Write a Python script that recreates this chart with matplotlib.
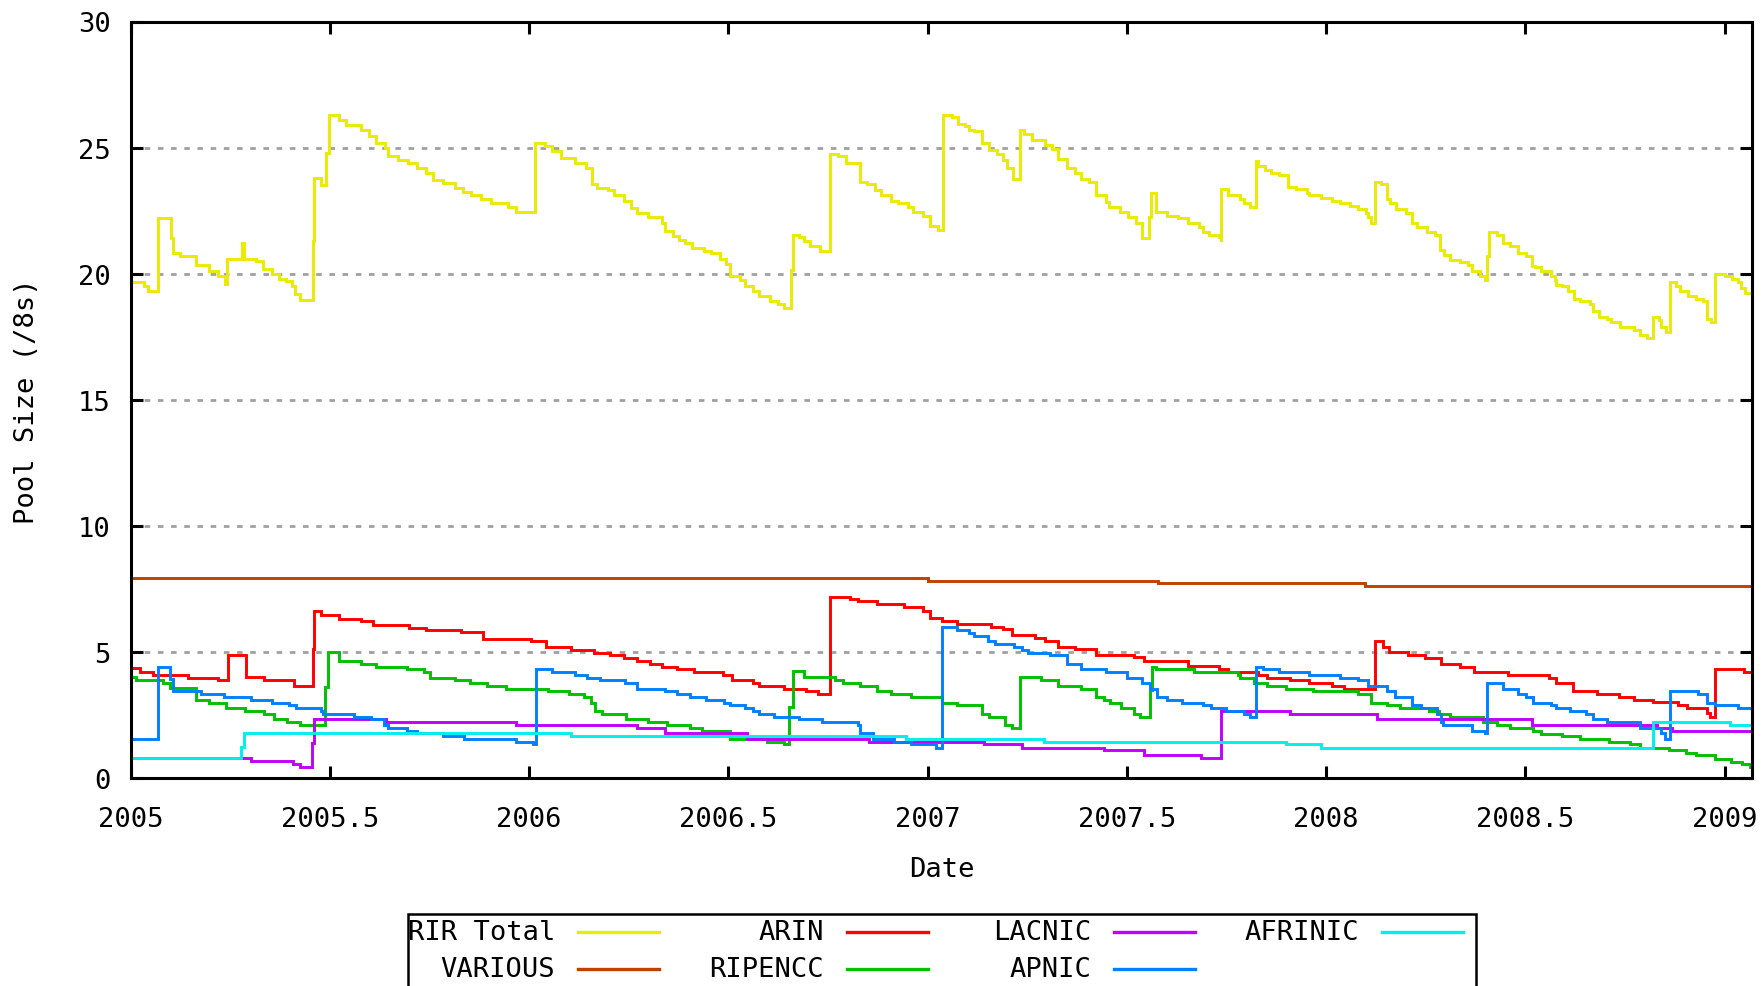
import matplotlib
matplotlib.use("Agg")
import matplotlib.pyplot as plt
from matplotlib.lines import Line2D
from matplotlib.patches import Rectangle

# ---- data: step break points (decimal year) and pool size in /8s ----
total_x = [2005.0, 2005.033, 2005.043, 2005.069, 2005.102, 2005.107, 2005.124, 2005.163, 2005.196, 2005.220,
           2005.237, 2005.243, 2005.279, 2005.285, 2005.314, 2005.333, 2005.354, 2005.373, 2005.390, 2005.404,
           2005.413, 2005.424, 2005.457, 2005.461, 2005.477, 2005.490, 2005.498, 2005.524, 2005.541, 2005.579,
           2005.598, 2005.617, 2005.639, 2005.646, 2005.670, 2005.697, 2005.718, 2005.742, 2005.758, 2005.785,
           2005.813, 2005.833, 2005.854, 2005.880, 2005.904, 2005.947, 2005.967, 2006.016, 2006.041, 2006.057,
           2006.081, 2006.115, 2006.144, 2006.158, 2006.170, 2006.199, 2006.213, 2006.237, 2006.256, 2006.270,
           2006.299, 2006.333, 2006.342, 2006.361, 2006.376, 2006.390, 2006.409, 2006.438, 2006.457, 2006.480,
           2006.495, 2006.505, 2006.529, 2006.543, 2006.562, 2006.577, 2006.605, 2006.624, 2006.639, 2006.656,
           2006.663, 2006.677, 2006.691, 2006.706, 2006.730, 2006.756, 2006.776, 2006.796, 2006.830, 2006.849,
           2006.868, 2006.883, 2006.907, 2006.926, 2006.950, 2006.964, 2006.988, 2007.007, 2007.026, 2007.038,
           2007.060, 2007.076, 2007.095, 2007.103, 2007.117, 2007.136, 2007.155, 2007.174, 2007.189, 2007.198,
           2007.215, 2007.232, 2007.242, 2007.261, 2007.294, 2007.313, 2007.328, 2007.351, 2007.371, 2007.385,
           2007.404, 2007.423, 2007.447, 2007.456, 2007.484, 2007.503, 2007.522, 2007.539, 2007.555, 2007.560,
           2007.574, 2007.600, 2007.629, 2007.653, 2007.682, 2007.692, 2007.707, 2007.731, 2007.735, 2007.737,
           2007.753, 2007.784, 2007.794, 2007.808, 2007.823, 2007.825, 2007.830, 2007.847, 2007.861, 2007.881,
           2007.905, 2007.924, 2007.953, 2007.958, 2007.987, 2008.016, 2008.036, 2008.060, 2008.079, 2008.099,
           2008.104, 2008.113, 2008.123, 2008.138, 2008.152, 2008.160, 2008.176, 2008.200, 2008.215, 2008.228,
           2008.254, 2008.273, 2008.286, 2008.295, 2008.312, 2008.336, 2008.356, 2008.367, 2008.385, 2008.399,
           2008.404, 2008.409, 2008.428, 2008.443, 2008.462, 2008.482, 2008.501, 2008.516, 2008.525, 2008.540,
           2008.564, 2008.574, 2008.578, 2008.593, 2008.608, 2008.622, 2008.637, 2008.661, 2008.671, 2008.685,
           2008.704, 2008.714, 2008.738, 2008.772, 2008.787, 2008.806, 2008.821, 2008.835, 2008.840, 2008.854,
           2008.864, 2008.878, 2008.888, 2008.907, 2008.927, 2008.946, 2008.956, 2008.965, 2008.975, 2009.000,
           2009.018, 2009.033, 2009.042, 2009.052]
total_y = [19.65, 19.5, 19.3, 22.2, 21.4, 20.8, 20.7, 20.35, 20.1, 19.9,
           19.6, 20.6, 21.2, 20.6, 20.5, 20.2, 20.0, 19.8, 19.7, 19.5,
           19.2, 18.95, 21.3, 23.8, 23.5, 24.8, 26.3, 26.1, 25.9, 25.7,
           25.45, 25.2, 25.0, 24.65, 24.5, 24.4, 24.2, 24.0, 23.7, 23.6,
           23.4, 23.25, 23.1, 22.95, 22.8, 22.65, 22.45, 25.2, 25.05, 24.85,
           24.6, 24.4, 24.2, 23.55, 23.4, 23.3, 23.1, 22.9, 22.6, 22.4,
           22.25, 22.0, 21.7, 21.5, 21.35, 21.2, 21.0, 20.9, 20.8, 20.6,
           20.4, 19.9, 19.75, 19.5, 19.3, 19.1, 18.9, 18.8, 18.65, 20.15,
           21.55, 21.45, 21.3, 21.1, 20.9, 24.75, 24.65, 24.4, 23.65, 23.55,
           23.3, 23.1, 22.9, 22.8, 22.65, 22.45, 22.3, 21.9, 21.75, 26.3,
           26.2, 25.95, 25.85, 25.7, 25.65, 25.2, 24.9, 24.75, 24.5, 24.2,
           23.75, 25.7, 25.55, 25.3, 25.1, 24.95, 24.55, 24.2, 24.0, 23.75,
           23.65, 23.1, 22.85, 22.65, 22.45, 22.25, 22.0, 21.4, 22.25, 23.2,
           22.45, 22.3, 22.2, 22.0, 21.85, 21.65, 21.55, 21.45, 21.3, 23.35,
           23.1, 22.95, 22.8, 22.65, 22.6, 24.45, 24.25, 24.1, 24.0, 23.9,
           23.45, 23.35, 23.2, 23.1, 23.0, 22.9, 22.8, 22.7, 22.55, 22.4,
           22.25, 22.0, 23.65, 23.55, 22.95, 22.8, 22.55, 22.4, 22.0, 21.85,
           21.65, 21.55, 20.95, 20.75, 20.55, 20.45, 20.35, 20.1, 19.9, 19.75,
           20.7, 21.65, 21.55, 21.2, 21.1, 20.8, 20.7, 20.3, 20.25, 20.1,
           19.9, 19.75, 19.55, 19.5, 19.3, 19.0, 18.9, 18.8, 18.5, 18.3,
           18.2, 18.1, 17.9, 17.75, 17.55, 17.45, 18.3, 18.15, 17.9, 17.7,
           19.65, 19.5, 19.3, 19.1, 19.0, 18.9, 18.2, 18.1, 20.0, 19.9,
           19.8, 19.65, 19.45, 19.25]

various_x = [2005.0, 2007.002, 2007.577, 2008.097]
various_y = [7.92, 7.82, 7.72, 7.62]

arin_x = [2005.0, 2005.024, 2005.057, 2005.144, 2005.220, 2005.244, 2005.289, 2005.335, 2005.411, 2005.457,
          2005.461, 2005.477, 2005.524, 2005.579, 2005.608, 2005.699, 2005.742, 2005.828, 2005.885, 2006.005,
          2006.043, 2006.105, 2006.163, 2006.203, 2006.237, 2006.270, 2006.304, 2006.333, 2006.371, 2006.414,
          2006.486, 2006.510, 2006.562, 2006.577, 2006.639, 2006.696, 2006.725, 2006.756, 2006.806, 2006.825,
          2006.873, 2006.940, 2006.988, 2007.007, 2007.036, 2007.074, 2007.160, 2007.189, 2007.213, 2007.270,
          2007.294, 2007.328, 2007.371, 2007.423, 2007.519, 2007.543, 2007.653, 2007.731, 2007.755, 2007.828,
          2007.852, 2007.910, 2007.958, 2008.016, 2008.044, 2008.123, 2008.142, 2008.159, 2008.205, 2008.249,
          2008.288, 2008.336, 2008.370, 2008.457, 2008.559, 2008.578, 2008.619, 2008.680, 2008.734, 2008.772,
          2008.821, 2008.884, 2008.905, 2008.956, 2008.964, 2008.975, 2009.048]
arin_y = [4.35, 4.22, 4.09, 3.98, 3.87, 4.87, 4.0, 3.87, 3.66, 5.13,
          6.64, 6.45, 6.32, 6.21, 6.08, 5.95, 5.86, 5.78, 5.53, 5.43,
          5.2, 5.08, 4.97, 4.87, 4.75, 4.65, 4.52, 4.41, 4.32, 4.22,
          4.09, 3.87, 3.76, 3.66, 3.54, 3.44, 3.32, 7.19, 7.1, 7.0,
          6.89, 6.77, 6.64, 6.34, 6.21, 6.11, 5.99, 5.89, 5.66, 5.56,
          5.43, 5.2, 5.1, 4.88, 4.78, 4.65, 4.43, 4.32, 4.22, 4.09,
          3.98, 3.87, 3.76, 3.66, 3.54, 5.43, 5.2, 5.0, 4.87, 4.75,
          4.52, 4.41, 4.22, 4.09, 3.98, 3.76, 3.44, 3.32, 3.22, 3.09,
          3.0, 2.89, 2.76, 2.57, 2.43, 4.32, 4.22]

ripe_x = [2005.0, 2005.014, 2005.081, 2005.100, 2005.163, 2005.196, 2005.239, 2005.287, 2005.335, 2005.359,
          2005.392, 2005.426, 2005.488, 2005.496, 2005.524, 2005.579, 2005.617, 2005.694, 2005.737, 2005.751,
          2005.813, 2005.852, 2005.895, 2005.943, 2006.048, 2006.100, 2006.139, 2006.156, 2006.165, 2006.184,
          2006.242, 2006.299, 2006.347, 2006.404, 2006.433, 2006.505, 2006.596, 2006.639, 2006.653, 2006.663,
          2006.691, 2006.768, 2006.787, 2006.830, 2006.873, 2006.907, 2006.959, 2007.036, 2007.074, 2007.136,
          2007.155, 2007.193, 2007.212, 2007.232, 2007.285, 2007.328, 2007.385, 2007.423, 2007.443, 2007.457,
          2007.486, 2007.519, 2007.533, 2007.557, 2007.562, 2007.572, 2007.668, 2007.779, 2007.784, 2007.818,
          2007.852, 2007.900, 2007.968, 2008.079, 2008.113, 2008.152, 2008.186, 2008.259, 2008.283, 2008.312,
          2008.394, 2008.428, 2008.462, 2008.520, 2008.540, 2008.593, 2008.637, 2008.709, 2008.763, 2008.787,
          2008.860, 2008.903, 2008.927, 2008.976, 2009.015, 2009.044, 2009.063]
ripe_y = [4.0, 3.87, 3.76, 3.57, 3.11, 2.99, 2.76, 2.66, 2.54, 2.34,
          2.24, 2.11, 3.6, 5.0, 4.65, 4.52, 4.41, 4.32, 4.22, 3.98,
          3.87, 3.76, 3.66, 3.54, 3.44, 3.32, 3.22, 2.99, 2.66, 2.54,
          2.34, 2.21, 2.11, 1.98, 1.88, 1.55, 1.43, 1.33, 2.83, 4.23,
          4.0, 3.87, 3.76, 3.66, 3.44, 3.32, 3.22, 2.99, 2.89, 2.54,
          2.43, 2.11, 1.98, 4.0, 3.87, 3.66, 3.54, 3.22, 3.11, 2.99,
          2.76, 2.54, 2.43, 3.48, 4.41, 4.32, 4.22, 4.09, 3.98, 3.76,
          3.66, 3.54, 3.44, 3.32, 2.99, 2.89, 2.76, 2.66, 2.54, 2.43,
          2.21, 2.11, 1.98, 1.88, 1.76, 1.65, 1.55, 1.43, 1.33, 1.2,
          1.11, 1.0, 0.9, 0.77, 0.65, 0.55, 0.42]

lacnic_x = [2005.0, 2005.301, 2005.407, 2005.426, 2005.455, 2005.459, 2005.641, 2005.967, 2006.270, 2006.342,
            2006.548, 2006.854, 2007.141, 2007.237, 2007.443, 2007.543, 2007.687, 2007.737, 2007.910, 2008.128,
            2008.516, 2008.830, 2008.869]
lacnic_y = [0.8, 0.68, 0.55, 0.44, 1.39, 2.34, 2.21, 2.11, 1.98, 1.78,
            1.55, 1.43, 1.33, 1.2, 1.11, 0.9, 0.78, 2.66, 2.54, 2.34,
            2.11, 1.98, 1.88]

apnic_x = [2005.0, 2005.070, 2005.100, 2005.107, 2005.177, 2005.234, 2005.301, 2005.354, 2005.397, 2005.416,
           2005.478, 2005.483, 2005.560, 2005.603, 2005.636, 2005.646, 2005.694, 2005.718, 2005.785, 2005.837,
           2005.967, 2006.010, 2006.017, 2006.057, 2006.115, 2006.146, 2006.179, 2006.241, 2006.270, 2006.342,
           2006.371, 2006.404, 2006.443, 2006.490, 2006.505, 2006.543, 2006.562, 2006.577, 2006.615, 2006.677,
           2006.734, 2006.825, 2006.830, 2006.864, 2006.916, 2006.959, 2007.022, 2007.036, 2007.074, 2007.103,
           2007.117, 2007.151, 2007.170, 2007.218, 2007.237, 2007.251, 2007.308, 2007.351, 2007.385, 2007.447,
           2007.500, 2007.538, 2007.557, 2007.576, 2007.600, 2007.639, 2007.692, 2007.711, 2007.750, 2007.794,
           2007.808, 2007.823, 2007.842, 2007.881, 2007.958, 2008.036, 2008.079, 2008.104, 2008.152, 2008.172,
           2008.215, 2008.239, 2008.278, 2008.288, 2008.293, 2008.365, 2008.399, 2008.404, 2008.443, 2008.482,
           2008.501, 2008.520, 2008.564, 2008.578, 2008.612, 2008.651, 2008.671, 2008.704, 2008.787, 2008.840,
           2008.850, 2008.864, 2008.932, 2008.956, 2008.976, 2009.034]
apnic_y = [1.56, 4.41, 3.93, 3.44, 3.32, 3.22, 3.11, 2.99, 2.89, 2.76,
           2.66, 2.54, 2.43, 2.34, 2.11, 1.98, 1.88, 1.78, 1.65, 1.55,
           1.43, 1.33, 4.32, 4.22, 4.09, 3.98, 3.87, 3.76, 3.54, 3.44,
           3.32, 3.22, 3.11, 2.99, 2.89, 2.76, 2.66, 2.54, 2.43, 2.34,
           2.21, 2.11, 1.78, 1.55, 1.43, 1.33, 1.2, 5.98, 5.86, 5.76,
           5.65, 5.43, 5.3, 5.2, 5.08, 4.97, 4.87, 4.52, 4.32, 4.19,
           3.98, 3.76, 3.54, 3.22, 3.11, 2.99, 2.89, 2.76, 2.66, 2.54,
           2.43, 4.41, 4.32, 4.22, 4.09, 3.98, 3.87, 3.66, 3.44, 3.22,
           2.89, 2.76, 2.54, 2.24, 2.11, 1.88, 1.78, 3.76, 3.54, 3.32,
           3.22, 2.99, 2.89, 2.76, 2.66, 2.54, 2.34, 2.21, 1.98, 1.78,
           1.55, 3.44, 3.32, 2.99, 2.89, 2.76]

afrinic_x = [2005.0, 2005.278, 2005.284, 2006.105, 2006.945, 2007.292, 2007.900, 2007.987, 2008.821, 2009.013]
afrinic_y = [0.78, 1.24, 1.78, 1.68, 1.55, 1.43, 1.33, 1.2, 2.21, 2.11]

x_end = 2009.07
x_ticks = [2005, 2005.5, 2006, 2006.5, 2007, 2007.5, 2008, 2008.5, 2009]
x_tick_labels = ["2005", "2005.5", "2006", "2006.5", "2007", "2007.5", "2008", "2008.5", "2009"]
y_ticks = [0, 5, 10, 15, 20, 25, 30]

series = [
    ("RIR Total", total_x, total_y, "#ebeb00"),
    ("VARIOUS", various_x, various_y, "#c04000"),
    ("ARIN", arin_x, arin_y, "#ff0000"),
    ("RIPENCC", ripe_x, ripe_y, "#00c000"),
    ("LACNIC", lacnic_x, lacnic_y, "#c000ff"),
    ("APNIC", apnic_x, apnic_y, "#0080ff"),
    ("AFRINIC", afrinic_x, afrinic_y, "#00eeee"),
]

# ---- figure ----
W, H, DPI = 1765, 987, 100
FONT = "DejaVu Sans Mono"
FS = 19.5
LW = 2.1

plt.rcParams["font.family"] = FONT
fig = plt.figure(figsize=(W / DPI, H / DPI), dpi=DPI)


def fx(px):
    return px / W


def fy(py):
    return 1 - py / H


ax = fig.add_axes([fx(130.6), fy(779), fx(1752.5) - fx(130.6), fy(22.5) - fy(779)])

for name, xs, ys, color in series:
    ax.plot(list(xs) + [x_end], list(ys) + [ys[-1]], drawstyle="steps-post",
            color=color, lw=LW, solid_joinstyle="miter", zorder=3)

ax.set_xlim(2005, x_end)
ax.set_ylim(0, 30)
ax.set_xticks(x_ticks)
ax.set_xticklabels(x_tick_labels)
ax.set_yticks(y_ticks)

ax.yaxis.grid(True, color="#a0a0a0", linestyle=(0, (2.0, 2.75)), linewidth=2.0)
ax.set_axisbelow(True)

for sp in ax.spines.values():
    sp.set_linewidth(2.2)
    sp.set_color("black")
    sp.set_zorder(4)

ax.tick_params(direction="in", length=8.6, width=2.2, top=True, right=True,
               labelsize=FS, colors="black")
ax.tick_params(axis="x", pad=20)
ax.tick_params(axis="y", pad=14.5)

fig.text(fx(27), (fy(22.5) + fy(779)) / 2, "Pool Size (/8s)", rotation=90,
         ha="center", va="center", fontsize=FS)
fig.text((fx(130.6) + fx(1752.5)) / 2, fy(870), "Date", ha="center", va="center", fontsize=FS)

# ---- key box below the plot, four columns, label before the sample line ----
text_right = [555, 824, 1091, 1359]
row_y = [933, 970]
gap, sample_len = 23, 81

fig.patches.append(Rectangle((fx(408), fy(1015)), fx(1476) - fx(408), fy(915) - fy(1015),
                             transform=fig.transFigure, fill=False, edgecolor="black",
                             linewidth=1.8, zorder=5))
for i, (name, xs, ys, color) in enumerate(series):
    col, row = divmod(i, 2)
    tx, ty = text_right[col], row_y[row]
    fig.text(fx(tx), fy(ty), name, ha="right", va="center", fontsize=FS)
    fig.lines.append(Line2D([fx(tx + gap), fx(tx + gap + sample_len)], [fy(ty), fy(ty)],
                            transform=fig.transFigure, color=color, lw=LW + 0.3))

fig.savefig("out.png", dpi=DPI)
